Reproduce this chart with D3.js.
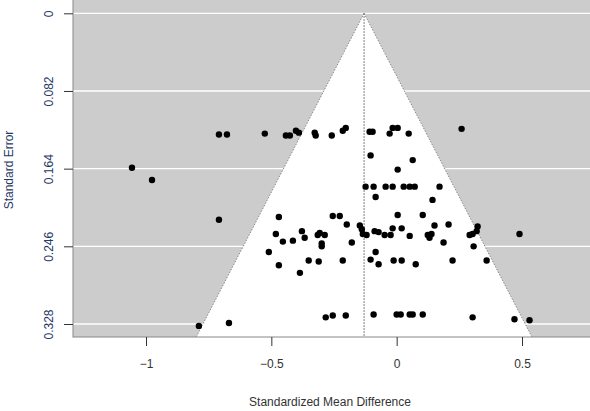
<!DOCTYPE html>
<html><head><meta charset="utf-8">
<script src="https://cdn.jsdelivr.net/npm/d3@7"></script>
<style>body{margin:0;background:#fff}svg{font-family:"Liberation Sans",Arial,sans-serif}</style>
</head><body><div class="container"></div>
<script>
const CENTER = -0.13;
const xTicks = [-1, -0.5, 0, 0.5];
const yTicks = [0, 0.082, 0.164, 0.246, 0.328];
const effects = [-0.709,-0.677,-0.526,-0.442,-0.426,-0.402,-0.390,-0.327,-0.323,-0.259,-0.215,-0.203,-0.108,-0.096,-0.028,-0.016,0.004,0.048,0.259,
 -0.104,0.064,0.004,-0.124,-0.092,-0.044,-0.016,0.028,0.052,0.072,0.171,-0.084,0.143,
 -0.709,-0.470,-0.255,-0.227,-0.199,-0.147,0.004,0.104,0.151,0.207,0.323,0.490,
 -0.482,-0.454,-0.414,-0.378,-0.367,-0.315,-0.307,-0.287,-0.299,-0.299,-0.179,-0.139,-0.135,-0.120,-0.088,-0.072,-0.048,-0.024,-0.016,0.020,0.052,0.124,0.131,0.139,0.187,0.291,0.303,0.319,0.307,
 -0.510,-0.470,-0.386,-0.351,-0.311,-0.215,-0.104,-0.084,-0.072,-0.012,0.020,0.076,0.223,0.359,
 -0.283,-0.255,-0.203,-0.092,0.000,0.016,0.052,0.064,0.104,0.303,0.470,0.530,-0.789,-0.669,-1.056,-0.976];
const stdErrors = [0.128,0.128,0.127,0.129,0.129,0.124,0.126,0.126,0.129,0.129,0.124,0.121,0.125,0.125,0.127,0.121,0.121,0.127,0.122,
 0.150,0.155,0.165,0.183,0.183,0.183,0.183,0.183,0.183,0.183,0.183,0.194,0.197,
 0.218,0.215,0.214,0.214,0.223,0.224,0.213,0.213,0.224,0.223,0.225,0.233,
 0.233,0.241,0.240,0.230,0.237,0.234,0.232,0.234,0.243,0.246,0.242,0.228,0.233,0.234,0.230,0.231,0.234,0.234,0.227,0.227,0.235,0.234,0.237,0.233,0.242,0.234,0.233,0.230,0.246,
 0.252,0.266,0.274,0.261,0.262,0.261,0.260,0.252,0.265,0.261,0.261,0.265,0.261,0.261,
 0.321,0.319,0.319,0.318,0.318,0.318,0.318,0.318,0.318,0.321,0.323,0.324,0.330,0.327,0.163,0.176];

const L = 73, R = 590, T = 0, B = 337;
const svg = d3.select(".container").append("svg").attr("width", 590).attr("height", 411);
const x = d3.scaleLinear().domain([-1, 0.5]).range([146, 522]);
const y = d3.scaleLinear().domain([0, 0.328]).range([13.3, 324]);
const seMax = y.invert(B);

svg.append("rect").attr("x", L).attr("y", T).attr("width", R - L).attr("height", B - T).attr("fill", "#cccccc");
svg.selectAll(".grid").data(yTicks).join("line")
  .attr("x1", L).attr("x2", R).attr("y1", d => y(d)).attr("y2", d => y(d))
  .attr("stroke", "#fff").attr("stroke-width", 1.3);

const funnel = [[CENTER, 0], [CENTER - 1.96 * seMax, seMax], [CENTER + 1.96 * seMax, seMax]];
svg.append("polygon").attr("points", funnel.map(p => x(p[0]) + "," + y(p[1])).join(" ")).attr("fill", "#fff");
[[funnel[0], funnel[1]], [funnel[0], funnel[2]], [[CENTER, 0], [CENTER, seMax]]].forEach(s => {
  svg.append("line").attr("x1", x(s[0][0])).attr("y1", y(s[0][1])).attr("x2", x(s[1][0])).attr("y2", y(s[1][1]))
    .attr("stroke", s[0][0] === s[1][0] ? "#555" : "#888").attr("stroke-width", 1).attr("stroke-dasharray", "1.5,1.5");
});

svg.selectAll(".pt").data(effects).join("circle")
  .attr("cx", d => x(d)).attr("cy", (d, i) => y(stdErrors[i])).attr("r", 3.2).attr("fill", "#000");

svg.append("rect").attr("x", L).attr("y", T - 1).attr("width", R - L + 2).attr("height", B - T + 1)
  .attr("fill", "none").attr("stroke", "#888");

const yAxis = svg.append("g").attr("transform", `translate(${L},0)`)
  .call(d3.axisLeft(y).tickValues(yTicks).tickSize(9).tickFormat(d => d === 0 ? "0" : d3.format(".3f")(d)));
yAxis.select(".domain").remove();
yAxis.selectAll("line").attr("stroke", "#333");
yAxis.selectAll("text").attr("transform", "rotate(-90)").attr("x", 0).attr("y", -22)
  .attr("dy", "0.35em").attr("text-anchor", "middle").attr("fill", "#1f3a68").attr("font-size", 12);
yAxis.selectAll(".tick text").attr("transform", null)
  .each(function(d) { d3.select(this).attr("transform", `translate(-20,0) rotate(-90)`).attr("x", 0).attr("y", 0).attr("dy", "0"); });

const xAxis = svg.append("g").attr("transform", `translate(0,${B})`)
  .call(d3.axisBottom(x).tickValues(xTicks).tickSize(9).tickFormat(d3.format("")));
xAxis.select(".domain").remove();
xAxis.selectAll("line").attr("stroke", "#333");
xAxis.selectAll("text").attr("y", 22).attr("fill", "#333").attr("font-size", 12);

svg.append("text").attr("x", 330).attr("y", 406).attr("text-anchor", "middle")
  .attr("fill", "#333").attr("font-size", 12).text("Standardized Mean Difference");
svg.append("text").attr("transform", "translate(13,170) rotate(-90)").attr("text-anchor", "middle")
  .attr("fill", "#1f3a68").attr("font-size", 12).text("Standard Error");
</script></body></html>
